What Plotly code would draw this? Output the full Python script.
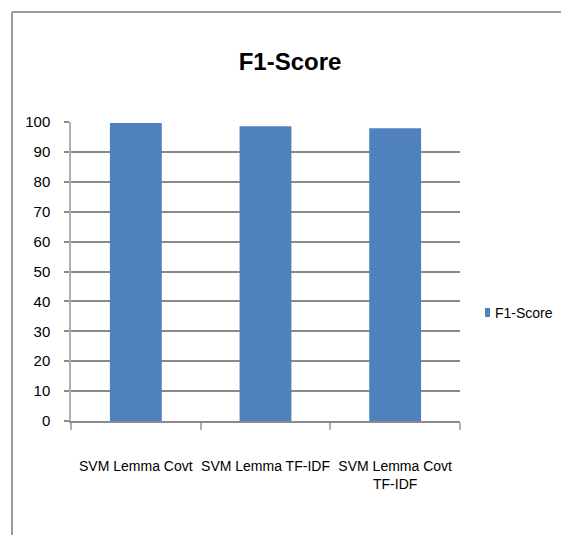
import plotly.graph_objects as go

categories = ["SVM Lemma Covt", "SVM Lemma TF-IDF", "SVM Lemma Covt<br>TF-IDF"]
f1_scores = [99.7, 98.6, 97.9]
y_ticks = [0, 10, 20, 30, 40, 50, 60, 70, 80, 90, 100]
series_name = "F1-Score"

FONT = "Liberation Sans, Arial, sans-serif"
BAR = "#4f81bd"
GRID = "#8a8a8a"
AXIS = "#b0b0b0"

fig = go.Figure(
    go.Bar(
        x=categories,
        y=f1_scores,
        name=series_name,
        marker=dict(color=BAR, line=dict(width=0)),
        width=0.4,
        showlegend=False,
    )
)

# plot area edges in pixels
W, H = 561, 535
L, R, T, B = 71, 101, 122, 114
pw, ph = W - L - R, H - T - B

def px_x(p):
    return (p - L) / pw

def px_y(p):
    return (H - B - p) / ph

# outer chart frame (top and left edges visible)
frame = dict(type="line", xref="paper", yref="paper",
             line=dict(color="#9a9a9a", width=2), layer="above")
fig.add_shape(**frame, x0=px_x(12), y0=px_y(12), x1=px_x(W + 5), y1=px_y(12))
fig.add_shape(**frame, x0=px_x(12), y0=px_y(12), x1=px_x(12), y1=px_y(H + 5))

# legend: small colour key with the series name to its right
fig.add_shape(type="rect", xref="paper", yref="paper",
              x0=px_x(485), x1=px_x(490), y0=px_y(317), y1=px_y(308),
              fillcolor=BAR, line=dict(width=0))
fig.add_annotation(text=series_name, xref="paper", yref="paper",
                   x=px_x(493), y=px_y(313), xanchor="left", yanchor="middle",
                   showarrow=False, font=dict(family=FONT, size=14, color="#000000"))

fig.update_layout(
    width=W,
    height=H,
    margin=dict(l=L, r=R, t=T, b=B, pad=0, autoexpand=False),
    paper_bgcolor="white",
    plot_bgcolor="white",
    font=dict(family=FONT, color="#000000", size=14),
    title=dict(
        text="<b>F1-Score</b>",
        x=290 / W,
        xanchor="center",
        y=1 - 62 / H,
        yanchor="middle",
        font=dict(family=FONT, size=24, color="#000000"),
    ),
    showlegend=False,
    bargap=0.6,
)

fig.update_xaxes(
    type="category",
    automargin=False,
    tickangle=0,
    showline=True,
    linecolor=GRID,
    linewidth=1.5,
    ticks="outside",
    tickson="boundaries",
    ticklen=7,
    tickcolor=AXIS,
    tickwidth=1.5,
    showgrid=False,
    tickfont=dict(family=FONT, size=14),
    ticklabelstandoff=31,
)

fig.update_yaxes(
    automargin=False,
    range=[0, 100],
    tickvals=y_ticks,
    showline=True,
    linecolor=AXIS,
    linewidth=1.5,
    ticks="outside",
    ticklen=5,
    tickcolor=GRID,
    tickwidth=1.5,
    showgrid=True,
    gridcolor=GRID,
    gridwidth=1.5,
    zeroline=False,
    tickfont=dict(family=FONT, size=15),
    ticklabelstandoff=11,
)

fig.write_html("out.html")
